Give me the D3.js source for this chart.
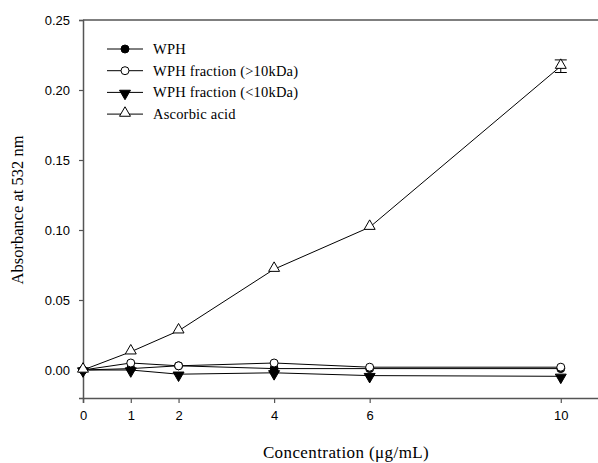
<!DOCTYPE html>
<html>
<head>
<meta charset="utf-8">
<script src="https://cdn.jsdelivr.net/npm/d3@7"></script>
<style>
  body { margin: 0; background: #fff; }
  .tick text { font-family: "Liberation Sans", Arial, sans-serif; font-size: 13px; fill: #000; }
  .title { font-family: "Liberation Serif", "Times New Roman", serif; fill: #000; }
</style>
</head>
<body>
<div id="chart"></div>
<script>
// concentrations (ug/mL)
const conc = [0, 1, 2, 4, 6, 10];
const xTicks = [0, 1, 2, 4, 6, 10];
const yTicks = [0, 0.05, 0.10, 0.15, 0.20, 0.25];

const wph = [0, 0.001, 0.003, 0.001, 0.001, 0.001];
const wphHigh = [0, 0.005, 0.003, 0.005, 0.002, 0.002];
const wphLow = [0, 0.0, -0.003, -0.002, -0.004, -0.0045];
const ascorbic = [0, 0.013, 0.028, 0.072, 0.102, 0.217];
const ascorbicErr = [0, 0, 0, 0, 0, 0.0045];

const seriesNames = ["WPH", "WPH fraction (>10kDa)", "WPH fraction (<10kDa)", "Ascorbic acid"];

const width = 598, height = 463;

const svg = d3.select("#chart").append("svg")
  .attr("width", width)
  .attr("height", height);

const x = d3.scaleLinear().domain([0, 10.8]).range([83, 599]);
const y = d3.scaleLinear().domain([-0.02, 0.25]).range([398, 20]);

// top frame line
svg.append("line")
  .attr("x1", x(0)).attr("x2", width)
  .attr("y1", y(0.25)).attr("y2", y(0.25))
  .attr("stroke", "#555").attr("stroke-width", 1.5);

const xAxis = svg.append("g")
  .attr("transform", `translate(0,${y(-0.02)})`)
  .call(d3.axisBottom(x).tickValues(xTicks).tickFormat(d3.format("d")).tickSizeOuter(0).tickSize(5).tickPadding(8));

const yAxis = svg.append("g")
  .attr("transform", `translate(${x(0)},0)`)
  .call(d3.axisLeft(y).tickValues(yTicks).tickFormat(d3.format(".2f")).tickSizeOuter(0).tickSize(4).tickPadding(9));

[xAxis, yAxis].forEach(g => {
  g.select(".domain").attr("stroke", "#555").attr("stroke-width", 1.5);
  g.selectAll(".tick line").attr("stroke", "#555").attr("stroke-width", 1.2);
});
yAxis.selectAll(".tick text").attr("dy", "0.36em");

// axis titles
svg.append("text").attr("class", "title")
  .attr("x", 346).attr("y", 458)
  .attr("text-anchor", "middle")
  .style("font-size", "17px")
  .style("letter-spacing", "0.4px")
  .text("Concentration (μg/mL)");

svg.append("text").attr("class", "title")
  .attr("transform", `translate(23,210) rotate(-90)`)
  .attr("text-anchor", "middle")
  .style("font-size", "16.5px")
  .text("Absorbance at 532 nm");

const line = d3.line().x((d, i) => x(conc[i])).y(d => y(d));

const symTri = d3.symbol().type(d3.symbolTriangle).size(52);

function drawMarker(g, kind, cx, cy) {
  if (kind === "fillCircle" || kind === "openCircle") {
    g.append("circle").attr("cx", cx).attr("cy", cy).attr("r", 4)
      .attr("fill", kind === "fillCircle" ? "#000" : "#fff")
      .attr("stroke", "#000").attr("stroke-width", 1);
  } else if (kind === "triDown") {
    g.append("path").attr("d", symTri())
      .attr("transform", `translate(${cx},${cy + 1}) rotate(180)`)
      .attr("fill", "#000").attr("stroke", "#000");
  } else {
    g.append("path").attr("d", symTri())
      .attr("transform", `translate(${cx},${cy - 1})`)
      .attr("fill", "#fff").attr("stroke", "#000").attr("stroke-width", 1);
  }
}

const series = [
  { vals: wph, kind: "fillCircle" },
  { vals: wphHigh, kind: "openCircle" },
  { vals: wphLow, kind: "triDown" },
  { vals: ascorbic, kind: "openTri", err: ascorbicErr }
];

series.forEach(s => {
  const g = svg.append("g");
  g.append("path").attr("d", line(s.vals))
    .attr("fill", "none").attr("stroke", "#000").attr("stroke-width", 1);
  if (s.err) {
    s.vals.forEach((v, i) => {
      if (!s.err[i]) return;
      const cx = x(conc[i]);
      g.append("line").attr("x1", cx).attr("x2", cx)
        .attr("y1", y(v - s.err[i])).attr("y2", y(v + s.err[i])).attr("stroke", "#000");
      [v - s.err[i], v + s.err[i]].forEach(e => {
        g.append("line").attr("x1", cx - 6).attr("x2", cx + 6)
          .attr("y1", y(e)).attr("y2", y(e)).attr("stroke", "#000");
      });
    });
  }
  s.vals.forEach((v, i) => drawMarker(g, s.kind, x(conc[i]), y(v)));
});

// legend
const legend = svg.append("g");
seriesNames.forEach((name, i) => {
  const ly = 49 + i * 21.7;
  legend.append("line").attr("x1", 107).attr("x2", 143)
    .attr("y1", ly).attr("y2", ly).attr("stroke", "#000");
  drawMarker(legend, series[i].kind, 125, ly);
  legend.append("text").attr("class", "title")
    .attr("x", 153).attr("y", ly).attr("dy", "0.35em")
    .style("font-size", "14.5px")
    .style("letter-spacing", "0.2px")
    .text(name);
});
</script>
</body>
</html>
